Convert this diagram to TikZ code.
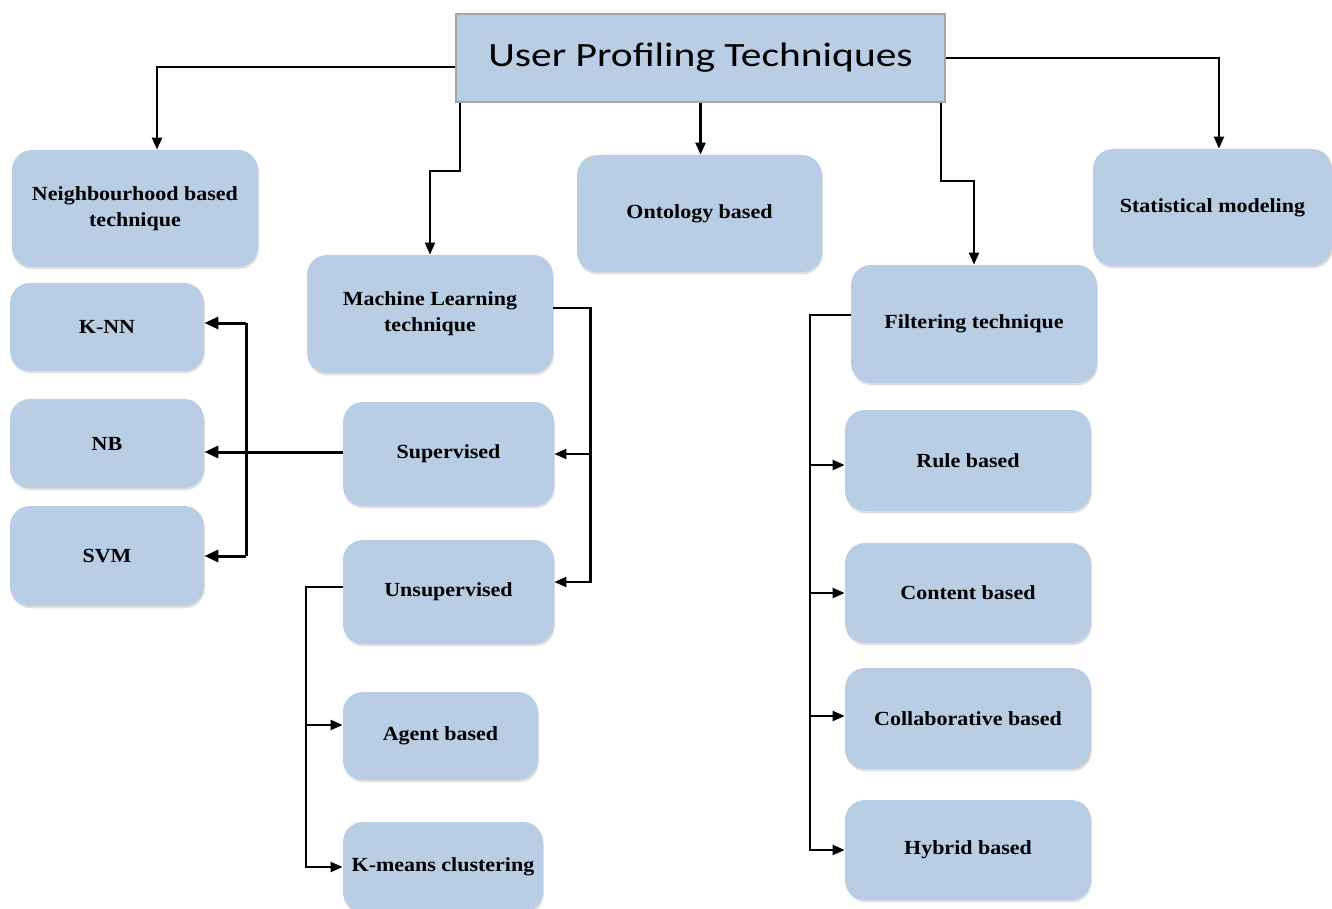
\documentclass[tikz,border=0pt]{standalone}
\usepackage{fontspec}
\setmainfont{Liberation Serif}[FakeStretch=1.1]
\newfontfamily\titlefont{Carlito}[FakeStretch=1.22]
\usetikzlibrary{arrows.meta,shadows,calc}
\definecolor{boxblue}{HTML}{B9CDE5}
\definecolor{boxedge}{HTML}{A6A6A6}
\tikzset{
  box/.style={fill=boxblue, rounded corners=10pt, align=center, inner sep=2pt,
    font=\bfseries\fontsize{10}{13}\selectfont,
    drop shadow={shadow xshift=0.4pt, shadow yshift=-1.2pt, fill=black, opacity=0.12}},
  titlebox/.style={fill=boxblue, draw=boxedge, line width=0.7pt, align=center,
    font=\titlefont\fontsize{17}{20}\selectfont},
  link/.style={line width=1.1pt, draw=black},
  arr/.style={link, -{Triangle[length=6pt,width=5pt]}},
  boldlink/.style={line width=1.5pt, draw=black},
  boldarr/.style={boldlink, -{Triangle[length=7pt,width=6pt]}}
}
\begin{document}
\begin{tikzpicture}[x=0.5pt,y=-0.5pt]
\useasboundingbox[fill=white] (0,0) rectangle (1332,909);

% root
\node[titlebox, minimum width=244.5pt, minimum height=44pt] (top) at (700.5,58) {User Profiling Techniques};

% first level
\node[box, minimum width=123pt, minimum height=58.5pt] (nbh) at (135,208.5) {Neighbourhood based\\technique};
\node[box, minimum width=123pt, minimum height=59pt] (ml) at (430,314) {Machine Learning\\technique};
\node[box, minimum width=122.5pt, minimum height=58.5pt] (onto) at (699.5,213.5) {Ontology based};
\node[box, minimum width=123pt, minimum height=59pt] (filt) at (974,324) {Filtering technique};
\node[box, minimum width=119.5pt, minimum height=58.5pt] (stat) at (1212.5,207.5) {Statistical modeling};

% classifiers
\node[box, minimum width=97pt, minimum height=44pt] (knn) at (107,327) {K-NN};
\node[box, minimum width=97pt, minimum height=44.5pt] (nb) at (107,443.5) {NB};
\node[box, minimum width=97pt, minimum height=50pt] (svm) at (107,556) {SVM};

% learning branches
\node[box, minimum width=105.5pt, minimum height=52pt] (sup) at (448.5,454) {Supervised};
\node[box, minimum width=105.5pt, minimum height=52pt] (unsup) at (448.5,592) {Unsupervised};
\node[box, minimum width=97.5pt, minimum height=44pt] (agent) at (440.5,736) {Agent based};
\node[box, minimum width=100pt, minimum height=45pt] (kmeans) at (443,867) {K-means clustering};

% filtering branches
\node[box, minimum width=123pt, minimum height=50.5pt] (rule) at (968,460.5) {Rule based};
\node[box, minimum width=123pt, minimum height=50pt] (content) at (968,593) {Content based};
\node[box, minimum width=123pt, minimum height=50.5pt] (collab) at (968,718.5) {Collaborative based};
\node[box, minimum width=123pt, minimum height=50pt] (hybrid) at (968,850) {Hybrid based};

% root connectors
\draw[arr] ([yshift=-4.5pt]top.west) -| ([xshift=11pt]nbh.north);
\draw[arr] (top.east) -| ([xshift=3.25pt]stat.north);
\draw[arr] ([xshift=2.5pt]top.south west) -- ++(0,68) -| (ml.north);
\draw[arr] (top.south) -- (top.south |- onto.north);
\draw[arr] ([xshift=-2.5pt]top.south east) -- ++(0,78) -| (filt.north);

% machine learning bus
\draw[arr] ([yshift=3pt]ml.east) -- ++(37,0) coordinate (mlb) |- ([yshift=5pt]unsup.east);
\draw[arr] (mlb |- sup.east) -- (sup.east);

% supervised bus
\coordinate (sb) at (246,452);
\coordinate (k1) at ([yshift=2pt]knn.east);
\draw[boldarr] ([yshift=1pt]sup.west) -- ([yshift=1pt]sup.west -| nb.east);
\draw[boldlink] (sb |- k1) -- (sb |- svm.east);
\draw[boldarr] (sb |- k1) -- (k1);
\draw[boldarr] (sb |- svm.east) -- (svm.east);

% unsupervised bus
\draw[arr] ([yshift=2.5pt]unsup.west) -- ++(-37,0) coordinate (ub) |- (kmeans.west);
\draw[arr] (ub |- agent.west) ++(0,-11) -- ([yshift=5.5pt]agent.west);

% filtering bus
\draw[arr] ([yshift=4.5pt]filt.west) -- ++(-41,0) coordinate (fb) |- (hybrid.west);
\draw[arr] ([yshift=-2.25pt]fb |- rule.west) -- ([yshift=-2.25pt]rule.west);
\draw[arr] (fb |- content.west) -- (content.west);
\draw[arr] ([yshift=1.25pt]fb |- collab.west) -- ([yshift=1.25pt]collab.west);
\end{tikzpicture}
\end{document}
